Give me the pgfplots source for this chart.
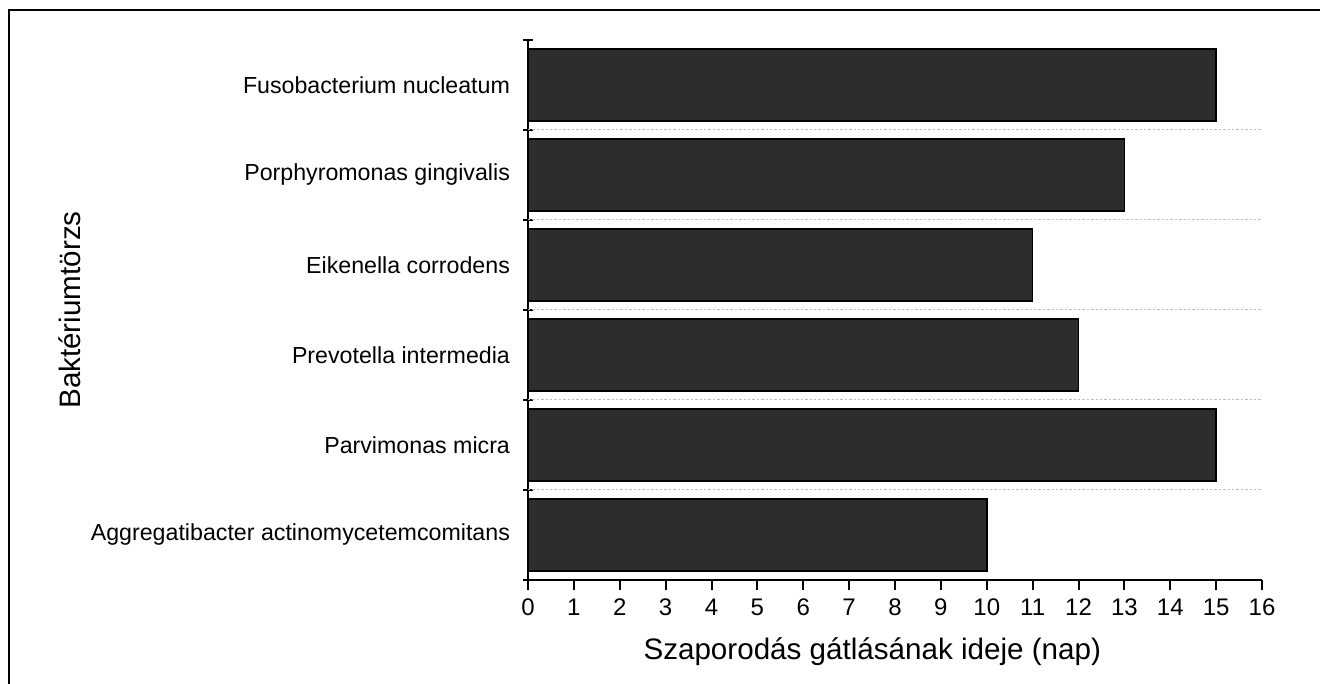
\documentclass[border=0pt]{standalone}
\usepackage{fontspec}
\setmainfont{Liberation Sans}
\usepackage{pgfplots}
\pgfplotsset{compat=1.18}
\definecolor{barfill}{HTML}{2D2D2D}
\definecolor{gridc}{HTML}{C0C0C0}
\begin{document}
\begin{tikzpicture}
\useasboundingbox (0,0) rectangle (660pt,342pt);
\draw[line width=1pt] (4.5pt,0) -- (4.5pt,337pt) -- (660pt,337pt);
\begin{axis}[
  at={(264pt,52pt)}, anchor=south west,
  scale only axis, width=367pt, height=270pt,
  xbar, bar width=0.8,
  xmin=0, xmax=16, ymin=-0.5, ymax=5.5,
  axis lines*=left,
  axis line style={line width=1pt,-},
  xtick={0,...,16},
  xtick align=outside,
  ytick align=center,
  tick style={line width=1pt, black},
  major tick length=5pt,
  ytick={-0.5,0.5,...,5.5},
  y tick label as interval,
  yticklabels={Aggregatibacter actinomycetemcomitans,Parvimonas micra,Prevotella intermedia,Eikenella corrodens,Porphyromonas gingivalis,Fusobacterium nucleatum},
  /pgf/number format/assume math mode=true,
  ticklabel style={font=\fontsize{12pt}{14pt}\selectfont},
  yticklabel style={font=\fontsize{11.6pt}{14pt}\selectfont, xshift=-3pt},
  xticklabel style={yshift=-1pt},
  xlabel={Szaporodás gátlásának ideje (nap)},
  ylabel={Baktériumtörzs},
  xlabel style={font=\fontsize{14.8pt}{17pt}\selectfont, at={(axis description cs:0.469,-0.133)}, anchor=center},
  ylabel style={font=\fontsize{14.8pt}{17pt}\selectfont, at={(axis description cs:-0.624,0.5)}, anchor=center},
  clip=false,
]
\pgfplotsinvokeforeach{0.5,1.5,2.5,3.5,4.5}{
  \draw[gridc, dash pattern=on 1.2pt off 1pt, line width=0.5pt] (axis cs:0,#1) -- (axis cs:16,#1);
}
\addplot[fill=barfill, draw=black, line width=0.75pt] coordinates {
  (10,0) (15,1) (12,2) (11,3) (13,4) (15,5)
};
\end{axis}
\end{tikzpicture}
\end{document}
